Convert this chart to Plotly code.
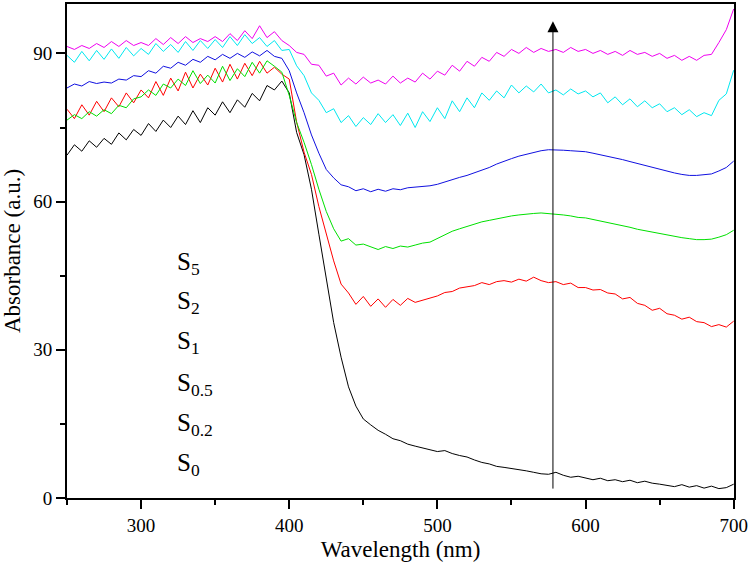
import plotly.graph_objects as go

wavelength = list(range(250, 701, 5))

s0 = [69.4, 71.5, 70.2, 72.3, 71.0, 72.8, 71.6, 73.9, 72.5, 74.6,
      73.4, 75.8, 74.2, 76.5, 75.0, 77.3, 75.6, 78.4, 76.0, 79.0,
      77.5, 80.2, 78.0, 80.6, 79.1, 81.9, 80.4, 83.5, 82.6, 84.4,
      82.0, 74.0, 69.5, 62.5, 53.4, 44.5, 35.5, 28.5, 22.5, 18.6,
      16.0, 14.8, 13.7, 12.9, 12.0, 11.6, 10.9, 10.5, 10.1, 9.8,
      9.4, 9.6, 9.0, 8.6, 8.3, 7.7, 7.2, 6.9, 6.4, 6.2,
      6.0, 5.8, 5.5, 5.2, 4.9, 4.8, 5.2, 4.6, 4.2, 4.4,
      4.1, 3.7, 4.0, 3.5, 3.7, 3.3, 3.6, 3.1, 3.4, 3.0,
      2.8, 2.6, 2.3, 2.7, 2.2, 2.5, 2.0, 2.4, 1.9, 2.1,
      2.8]

s02 = [78.7, 76.8, 79.6, 77.5, 80.3, 78.2, 81.0, 79.2, 82.0, 80.0,
       82.6, 81.0, 84.3, 81.5, 85.0, 82.4, 86.2, 83.0, 85.8, 83.6,
       87.0, 84.2, 87.8, 84.8, 88.0, 85.5, 88.4, 86.0, 87.2, 85.8,
       84.8, 76.1, 70.0, 65.5, 59.0, 53.5, 48.0, 43.3, 41.5, 39.2,
       40.8, 38.8, 40.3, 38.6, 40.2, 39.0, 40.4, 39.6, 40.0, 40.5,
       40.9, 41.6, 41.8, 42.5, 42.8, 43.0, 43.6, 43.2, 43.8, 44.0,
       43.7, 44.3, 43.9, 44.7, 44.0, 43.6, 43.8, 43.2, 43.5, 42.6,
       42.6, 42.1, 42.2, 41.5, 41.3, 40.3, 40.6, 39.4, 39.0, 38.0,
       38.4, 37.3, 37.0, 36.2, 36.6, 35.7, 35.5, 34.7, 35.1, 34.6,
       35.8]

s05 = [76.5, 77.6, 76.8, 78.2, 77.3, 78.6, 77.8, 79.5, 79.0, 80.8,
       81.2, 82.6, 81.5, 83.8, 83.0, 84.8, 83.5, 86.5, 83.9, 85.6,
       84.0, 87.4, 84.5, 86.9, 85.3, 88.2, 86.0, 88.5, 87.4, 86.2,
       81.5, 76.0, 72.0, 67.5, 62.5, 58.0, 54.5, 52.0, 52.5, 51.2,
       51.4, 50.8, 50.3, 50.9, 50.5, 51.0, 50.8, 51.2, 51.6, 51.8,
       52.5, 53.3, 54.0, 54.5, 55.0, 55.4, 55.9, 56.2, 56.5, 56.9,
       57.1, 57.3, 57.5, 57.6, 57.7, 57.6, 57.5, 57.3, 57.1, 56.8,
       56.7, 56.4, 56.1, 55.7, 55.4, 55.1, 54.8, 54.4, 54.1, 53.8,
       53.6, 53.3, 53.0, 52.7, 52.5, 52.3, 52.3, 52.4, 52.8, 53.3,
       54.2]

s1 = [83.0, 83.8, 83.4, 84.3, 83.9, 84.2, 84.0, 84.8, 84.6, 85.5,
      85.3, 86.5, 86.0, 87.4, 87.0, 88.2, 87.6, 88.8, 88.2, 89.4,
      88.7, 89.8, 89.0, 90.0, 89.2, 90.3, 89.5, 90.6, 89.4, 89.0,
      86.5, 82.0, 78.0, 73.5, 69.8, 66.5, 64.8, 63.4, 63.0, 62.2,
      62.6, 62.0, 62.5, 62.1, 62.6, 62.4, 62.8, 62.9, 63.1, 63.2,
      63.5, 64.0, 64.4, 64.9, 65.3, 65.8, 66.3, 66.9, 67.6, 68.2,
      68.7, 69.2, 69.6, 70.0, 70.3, 70.5, 70.5, 70.4, 70.3, 70.2,
      70.1, 69.8, 69.5, 69.2, 68.8, 68.5, 68.1, 67.7, 67.3, 66.9,
      66.6, 66.2, 65.8, 65.5, 65.3, 65.3, 65.4, 65.6, 66.2, 66.9,
      68.2]

s2 = [89.6, 88.2, 90.4, 88.5, 90.6, 88.8, 90.9, 89.0, 91.2, 89.5,
      91.0, 89.8, 92.0, 90.4, 91.8, 90.2, 92.4, 90.6, 92.6, 91.0,
      92.8, 91.2, 93.4, 91.6, 93.8, 92.0, 93.2, 91.4, 92.6, 90.6,
      90.8, 87.5, 85.5, 82.0, 80.5, 78.0, 78.8, 76.0, 77.4, 75.2,
      77.0, 75.6, 77.8, 76.0, 77.6, 75.4, 77.9, 75.0, 78.2, 76.2,
      79.0, 76.8, 80.4, 78.2, 81.0, 79.0, 82.0, 80.5, 82.4, 81.0,
      83.6, 82.0, 83.4, 82.2, 83.8, 82.0, 82.6, 81.6, 82.8, 81.8,
      82.4, 81.2, 82.0, 80.0, 81.2, 79.6, 80.8, 79.2, 80.4, 79.0,
      79.8, 78.2, 79.0, 77.6, 78.6, 77.2, 78.0, 77.4, 80.5, 81.8,
      86.6]

s5 = [91.4, 90.8, 91.6, 91.0, 92.0, 91.2, 92.4, 91.4, 92.6, 91.6,
      92.2, 91.6, 93.0, 91.8, 93.2, 92.0, 93.4, 92.2, 93.0, 92.4,
      93.4, 92.4, 94.0, 92.6, 94.6, 93.0, 95.6, 93.2, 94.4, 92.6,
      91.6, 90.2, 89.8, 87.8, 87.6, 85.4, 86.0, 83.6, 85.0, 83.8,
      85.2, 84.0, 84.6, 83.8, 85.4, 84.0, 85.0, 84.2, 86.0, 84.8,
      86.4, 85.6, 87.6, 86.4, 88.4, 87.4, 89.2, 88.4, 90.2, 89.4,
      90.8, 90.0, 91.2, 90.2, 91.0, 90.4, 90.8, 90.2, 91.2, 90.4,
      90.8, 90.0, 90.6, 89.8, 90.4, 89.6, 90.6, 89.8, 90.2, 89.4,
      90.0, 89.0, 89.6, 88.6, 89.4, 88.6, 89.6, 89.8, 92.2, 94.8,
      99.0]

series = [
    ("S0", s0, "#000000"),
    ("S0.2", s02, "#ff0000"),
    ("S0.5", s05, "#00e000"),
    ("S1", s1, "#1010e0"),
    ("S2", s2, "#00e8f0"),
    ("S5", s5, "#f000f0"),
]
for name, vals, _ in series:
    assert len(vals) == len(wavelength), name

label_text = ["S<sub>5</sub>", "S<sub>2</sub>", "S<sub>1</sub>",
              "S<sub>0.5</sub>", "S<sub>0.2</sub>", "S<sub>0</sub>"]
label_y = [47.5, 39.5, 31.4, 22.9, 14.9, 6.8]
label_x = 323

arrow_x = 578
arrow_y0 = 1.6
arrow_y1 = 96.5

SERIF = "Liberation Serif, Times New Roman, Times, DejaVu Serif, serif"

fig = go.Figure()
for name, vals, color in series:
    fig.add_trace(go.Scatter(x=wavelength, y=vals, mode="lines", name=name,
                             line=dict(color=color, width=1)))

for t, yy in zip(label_text, label_y):
    fig.add_annotation(x=label_x, y=yy, text=t, showarrow=False,
                       xanchor="left", yanchor="middle",
                       font=dict(family=SERIF, size=25, color="black"))

fig.add_annotation(x=arrow_x, y=arrow_y1, ax=arrow_x, ay=arrow_y0,
                   xref="x", yref="y", axref="x", ayref="y",
                   text="", showarrow=True, arrowhead=2, arrowsize=2.2,
                   arrowwidth=1, arrowcolor="black")

font = dict(family=SERIF, size=19, color="black")
fig.update_layout(
    width=750, height=565,
    margin=dict(l=67, r=14, t=2, b=67),
    paper_bgcolor="white", plot_bgcolor="white",
    showlegend=False,
    font=font,
)
fig.update_xaxes(
    range=[250, 700.2], tickvals=[300, 400, 500, 600, 700],
    ticks="outside", ticklen=9, tickwidth=2, tickcolor="black",
    minor=dict(dtick=50, tick0=250, ticks="outside", ticklen=5, tickwidth=2, tickcolor="black"),
    showline=True, linewidth=2, linecolor="black", mirror=True,
    showgrid=False, zeroline=False,
    title=dict(text="Wavelength (nm)", font=dict(family=SERIF, size=23), standoff=6),
    tickfont=dict(family=SERIF, size=19, color="black"),
    ticklabeloverflow="allow",
)
fig.update_yaxes(
    range=[0, 100], tickvals=[0, 30, 60, 90],
    ticks="outside", ticklen=9, tickwidth=2, tickcolor="black",
    minor=dict(dtick=15, tick0=0, ticks="outside", ticklen=5, tickwidth=2, tickcolor="black"),
    showline=True, linewidth=2, linecolor="black", mirror=True,
    showgrid=False, zeroline=False,
    title=dict(text="Absorbance (a.u.)", font=dict(family=SERIF, size=23), standoff=6),
    tickfont=dict(family=SERIF, size=19, color="black"),
)

fig.write_html("out.html", config={"displayModeBar": False},
               post_script="document.body.style.margin='0';")
